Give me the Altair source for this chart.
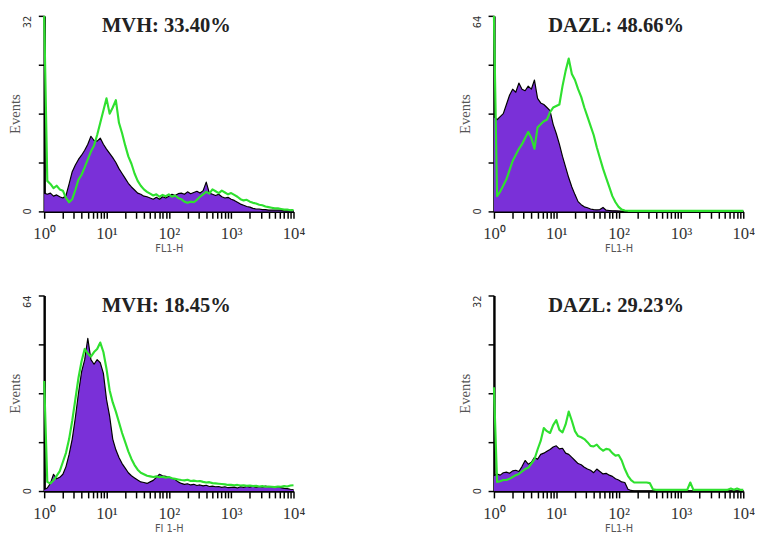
import math
import altair as alt
import pandas as pd

# Channel positions as decades of FL1-H (10^0 .. 10^4), step 0.05
DECADES = [0.00, 0.05, 0.10, 0.15, 0.20, 0.25, 0.30, 0.35, 0.40, 0.45,
           0.50, 0.55, 0.60, 0.65, 0.70, 0.75, 0.80, 0.85, 0.90, 0.95,
           1.00, 1.05, 1.10, 1.15, 1.20, 1.25, 1.30, 1.35, 1.40, 1.45,
           1.50, 1.55, 1.60, 1.65, 1.70, 1.75, 1.80, 1.85, 1.90, 1.95,
           2.00, 2.05, 2.10, 2.15, 2.20, 2.25, 2.30, 2.35, 2.40, 2.45,
           2.50, 2.55, 2.60, 2.65, 2.70, 2.75, 2.80, 2.85, 2.90, 2.95,
           3.00, 3.05, 3.10, 3.15, 3.20, 3.25, 3.30, 3.35, 3.40, 3.45,
           3.50, 3.55, 3.60, 3.65, 3.70, 3.75, 3.80, 3.85, 3.90, 3.95,
           4.00]

TITLES = ["MVH: 33.40%", "DAZL: 48.66%", "MVH: 18.45%", "DAZL: 29.23%"]
X_TITLES = ["FL1-H", "FL1-H", "FI 1-H", "FL1-H"]
Y_MAX = [32, 64, 64, 32]
TICK_LABELS = ["10⁰", "10¹", "10²", "10³", "10⁴"]

# Panel 1 (MVH, top-left)
CTRL_1 = [3.0, 2.8, 3.0, 2.5, 2.7, 2.4, 2.2, 2.6, 4.5, 6.5,
          7.6, 8.5, 9.2, 10.0, 11.0, 12.3, 11.6, 11.5, 12.0, 11.0,
          10.2, 9.5, 8.8, 8.0, 7.0, 6.2, 5.4, 4.6, 4.0, 3.5,
          3.0, 2.8, 2.5, 2.4, 2.2, 2.0, 2.3, 2.0, 2.4, 2.2,
          2.5, 2.8, 2.6, 2.9, 3.0, 2.8, 3.2, 2.9, 3.1, 3.3,
          3.0, 3.4, 4.8, 3.0, 2.8, 2.6, 2.8, 2.4, 2.2, 2.3,
          2.0, 1.8, 1.5, 1.2, 1.0, 0.8, 0.7, 0.5, 0.4, 0.4,
          0.3, 0.3, 0.2, 0.2, 0.2, 0.2, 0.2, 0.1, 0.1, 0.1,
          0.1]
SAMPLE_1 = [32.0, 5.0, 4.5, 3.8, 4.2, 3.6, 3.4, 2.2, 1.5, 2.0,
            3.5, 5.2, 6.0, 7.2, 8.5, 9.8, 10.8, 12.5, 14.5, 16.5,
            18.5, 16.0, 17.0, 18.2, 14.5, 12.8, 10.8, 9.0, 7.8, 6.2,
            5.0, 4.2, 3.6, 3.2, 2.9, 2.6, 2.8, 2.4, 2.7, 2.5,
            2.8, 2.4, 2.6, 2.2, 2.0, 1.6, 1.4, 1.6, 1.5, 1.9,
            2.4, 2.8, 3.2, 2.9, 3.6, 3.3, 3.0, 3.4, 3.1, 2.8,
            3.0, 2.7, 2.4, 2.0, 1.8, 1.9, 1.6, 1.4, 1.3, 1.1,
            1.0, 0.8, 0.7, 0.6, 0.5, 0.5, 0.4, 0.3, 0.3, 0.2,
            0.2]

# Panel 2 (DAZL, top-right)
CTRL_2 = [31.0, 30.0, 31.0, 32.0, 35.0, 38.0, 40.0, 39.0, 42.0, 40.0,
          39.5, 41.0, 40.0, 43.0, 37.0, 35.5, 35.0, 34.0, 33.0, 28.5,
          25.5, 22.0, 18.0, 14.5, 11.0, 8.0, 5.5, 3.2, 2.2, 1.5,
          1.2, 0.8, 0.6, 0.5, 0.6, 1.3, 0.4, 0.3, 0.2, 0.2,
          0.1, 0.0, 0.0, 0.0, 0.0, 0.0, 0.0, 0.0, 0.0, 0.0,
          0.0, 0.0, 0.0, 0.0, 0.0, 0.0, 0.0, 0.0, 0.0, 0.0,
          0.0, 0.0, 0.0, 0.0, 0.0, 0.0, 0.0, 0.0, 0.0, 0.0,
          0.0, 0.0, 0.0, 0.0, 0.0, 0.0, 0.0, 0.0, 0.0, 0.0,
          0.0]
SAMPLE_2 = [64.0, 5.0, 6.5, 8.5, 10.5, 13.5, 16.5, 18.5, 20.5, 22.0,
            24.0, 26.0, 24.0, 20.5, 27.5, 28.5, 29.5, 30.0, 32.5, 34.0,
            34.5, 35.0, 41.0, 46.0, 50.0, 45.0, 43.0, 40.0, 37.5, 34.0,
            31.0, 28.0, 25.0, 21.0, 17.5, 14.0, 11.0, 8.0, 5.0, 3.0,
            1.5, 0.6, 0.3, 0.2, 0.2, 0.2, 0.2, 0.2, 0.2, 0.2,
            0.2, 0.2, 0.2, 0.2, 0.2, 0.2, 0.2, 0.2, 0.2, 0.2,
            0.2, 0.2, 0.2, 0.2, 0.2, 0.2, 0.2, 0.2, 0.2, 0.2,
            0.2, 0.2, 0.2, 0.2, 0.2, 0.2, 0.2, 0.2, 0.2, 0.2,
            0.2]

# Panel 3 (MVH, bottom-left)
CTRL_3 = [0.5, 1.0, 2.5, 5.5, 4.0, 4.5, 5.5, 8.0, 12.0, 17.0,
          24.0, 32.0, 39.0, 43.0, 50.0, 43.0, 41.5, 43.0, 42.0, 38.5,
          30.0, 24.5, 17.0, 13.5, 11.0, 9.0, 7.5, 6.0, 5.0, 4.3,
          3.6, 3.0, 2.8, 2.5, 3.0, 3.5, 4.5, 5.5, 5.0, 4.8,
          4.5, 4.2, 3.8, 3.0, 2.5, 2.2, 2.4, 2.0, 2.2, 1.8,
          2.0, 1.7, 1.9, 1.5, 1.6, 1.4, 1.5, 1.2, 1.4, 1.1,
          1.2, 1.3, 1.0, 1.4, 1.2, 1.5, 1.3, 1.6, 1.2, 1.5,
          1.3, 1.6, 1.4, 1.5, 1.2, 1.4, 1.1, 0.9, 0.8, 0.6,
          0.5]
SAMPLE_3 = [36.0, 3.0, 2.5, 3.5, 5.0, 6.5, 9.5, 12.5, 17.0, 23.0,
            30.0, 37.0, 42.5, 46.5, 45.0, 44.0, 45.5, 46.5, 48.6, 45.5,
            40.0, 33.0, 29.0, 26.0, 22.5, 19.0, 16.0, 13.0, 10.5, 8.5,
            7.0, 6.0, 5.5, 5.0, 4.8, 4.6, 4.8, 4.5, 4.7, 4.4,
            4.6, 4.2, 4.0, 3.8, 3.6, 3.5, 3.7, 3.3, 3.4, 3.2,
            3.3, 3.0, 2.8, 2.9, 2.6, 2.5, 2.4, 2.3, 2.2, 2.0,
            2.0, 1.9, 2.0, 1.8, 1.9, 1.7, 1.8, 1.6, 1.7, 1.5,
            1.6, 1.4, 1.5, 1.4, 1.3, 1.5, 1.4, 1.6, 1.5, 1.8,
            1.9]

# Panel 4 (DAZL, bottom-right)
CTRL_4 = [2.5, 2.8, 2.6, 3.0, 3.1, 2.9, 3.3, 3.4, 3.2, 4.0,
          5.0, 4.4, 4.7, 5.5, 5.2, 6.0, 6.2, 6.5, 6.8, 7.2,
          7.4, 6.9, 7.0, 6.2, 6.0, 5.5, 5.0, 4.5, 4.3, 3.9,
          3.6, 3.4, 3.0, 3.6, 3.2, 2.8, 2.9, 2.6, 2.4, 2.0,
          1.8, 1.5, 1.4, 0.3, 0.1, 0.0, 0.0, 0.0, 0.0, 0.0,
          0.0, 0.0, 0.0, 0.0, 0.0, 0.0, 0.0, 0.0, 0.0, 0.0,
          0.0, 0.0, 0.0, 0.0, 0.0, 0.0, 0.0, 0.0, 0.0, 0.0,
          0.0, 0.0, 0.0, 0.0, 0.0, 0.0, 0.0, 0.0, 0.0, 0.0,
          0.0]
SAMPLE_4 = [17.0, 1.5, 1.6, 1.8, 1.8, 2.0, 2.3, 2.6, 2.8, 3.2,
            3.6, 3.8, 4.5, 5.2, 6.8, 8.2, 10.3, 9.8, 9.5, 10.8,
            11.6, 10.0, 9.6, 10.9, 13.0, 11.5, 9.8, 9.0, 8.8, 8.5,
            8.0, 7.4, 7.3, 7.6, 7.0, 6.6, 6.9, 6.8, 6.2, 5.8,
            5.9, 5.0, 3.6, 2.5, 1.8, 1.4, 1.4, 1.4, 1.4, 1.4,
            1.3, 0.3, 0.2, 0.2, 0.2, 0.2, 0.2, 0.2, 0.2, 0.2,
            0.2, 0.2, 0.2, 1.4, 0.2, 0.2, 0.2, 0.2, 0.2, 0.2,
            0.2, 0.2, 0.2, 0.2, 0.2, 0.2, 0.4, 0.2, 0.4, 0.2,
            0.2]

CTRLS = [CTRL_1, CTRL_2, CTRL_3, CTRL_4]
SAMPLES = [SAMPLE_1, SAMPLE_2, SAMPLE_3, SAMPLE_4]

PURPLE = "#7a30d8"
GREEN = "#2fe02f"
W, H = 255, 200

# log-axis tick positions: 1..9 x 10^d
tick_vals = [round(d + math.log10(k), 4) for d in range(4) for k in range(1, 10)] + [4.0]
label_expr = "''"
for n in reversed(range(len(TICK_LABELS))):
    label_expr = f"abs(datum.value - {n}) < 0.001 ? '{TICK_LABELS[n]}' : ({label_expr})"


def panel(i):
    df = pd.DataFrame({"x": DECADES, "ctrl": CTRLS[i], "sample": SAMPLES[i]})
    ymax = Y_MAX[i]
    xaxis = alt.Axis(values=tick_vals, labelExpr=label_expr, title=X_TITLES[i],
                     ticks=True, tickSize=7, tickWidth=1.5, tickColor="#000000",
                     tickOpacity=1,
                     domainColor="black", domainWidth=2.5,
                     labelFont="Liberation Serif", labelFontSize=17,
                     labelColor="#333333", labelPadding=8,
                     labelOverlap=False, labelFlush=False,
                     titleFont="DejaVu Sans", titleFontSize=10,
                     titleFontWeight="normal", titleColor="#555555",
                     titlePadding=2, grid=False)
    xscale = alt.Scale(domain=[0, 4], nice=False, zero=False)
    yaxis = alt.Axis(values=[0, ymax / 4, ymax / 2, 3 * ymax / 4, ymax],
                     labels=False,
                     title="Events", ticks=True, tickSize=6, tickWidth=1.5,
                     tickColor="#000000", tickOpacity=1,
                     domainColor="black", domainWidth=2.5,
                     titleFont="Liberation Serif", titleFontSize=15,
                     titleFontWeight="normal", titleColor="#555555",
                     titlePadding=15, grid=False)
    yscale = alt.Scale(domain=[0, ymax], nice=False)
    base = alt.Chart(df)
    area = base.mark_area(color=PURPLE, opacity=1,
                          line=alt.OverlayMarkDef(color="black", strokeWidth=1.2,
                                                  strokeJoin="round")).encode(
        x=alt.X("x:Q", scale=xscale, axis=xaxis),
        y=alt.Y("ctrl:Q", scale=yscale, axis=yaxis))
    line = base.mark_line(color=GREEN, strokeWidth=2.2, strokeJoin="round").encode(
        x=alt.X("x:Q", scale=xscale, axis=xaxis),
        y=alt.Y("sample:Q", scale=yscale, axis=yaxis))
    # y-axis end labels, rotated
    lab_style = dict(angle=270, baseline="bottom", font="DejaVu Sans",
                     fontSize=10, color="#333333")
    top_lab = alt.Chart(pd.DataFrame({"v": [ymax], "t": [str(ymax)]})).mark_text(
        align="right", **lab_style).encode(
        y=alt.Y("v:Q", scale=yscale, axis=yaxis), x=alt.value(-11), text="t:N")
    zero_lab = alt.Chart(pd.DataFrame({"v": [0], "t": ["0"]})).mark_text(
        align="center", **lab_style).encode(
        y=alt.Y("v:Q", scale=yscale, axis=yaxis), x=alt.value(-11), text="t:N")
    title = alt.Chart(pd.DataFrame({"t": [TITLES[i]]})).mark_text(
        font="Liberation Serif", fontSize=21, fontWeight="bold", color="#222222",
        baseline="middle", align="center").encode(
        text="t:N", x=alt.value(W * 0.49), y=alt.value(11))
    return alt.layer(area, line, top_lab, zero_lab, title).properties(width=W, height=H)


row1 = alt.hconcat(panel(0), panel(1), spacing=156)
row2 = alt.hconcat(panel(2), panel(3), spacing=156)
chart = (alt.vconcat(row1, row2, spacing=42)
         .properties(padding=0)
         .configure_view(stroke=None)
         .configure_axis(labelOverlap=False))

chart.save("out.html", embed_options={"renderer": "svg", "actions": False})
